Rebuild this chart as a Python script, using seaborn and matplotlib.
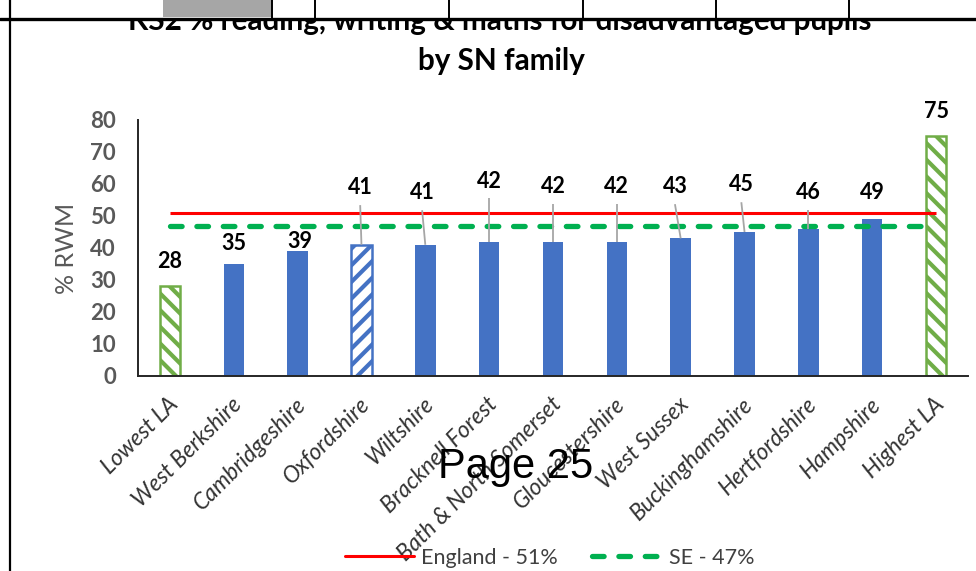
import matplotlib
matplotlib.use("Agg")
import matplotlib.pyplot as plt
import matplotlib.transforms as mtransforms
from matplotlib.lines import Line2D
from matplotlib.patches import Rectangle
import seaborn as sns

# --- data -------------------------------------------------------------
categories = ["Lowest LA", "West Berkshire", "Cambridgeshire", "Oxfordshire",
              "Wiltshire", "Bracknell Forest", "Bath & North Somerset",
              "Gloucestershire", "West Sussex", "Buckinghamshire",
              "Hertfordshire", "Hampshire", "Highest LA"]
rwm_values = [28, 35, 39, 41, 41, 42, 42, 42, 43, 45, 46, 49, 75]
england_value = 51
se_value = 47
england_label = "England - 51%"
se_label = "SE - 47%"
y_ticks = [0, 10, 20, 30, 40, 50, 60, 70, 80]

# bar kind: range end points, the local authority, and its neighbours
bar_kind = ["range", "peer", "peer", "self", "peer", "peer", "peer",
            "peer", "peer", "peer", "peer", "peer", "range"]

# where the value labels sit (y in data units, x shift in categories)
label_y = [35.9, 41.3, 41.9, 58.8, 57.2, 60.9, 59.1, 59.1, 59.1, 59.7, 57.2, 57.2, 82.5]
label_dx = [0, 0, 0.03, -0.02, -0.05, 0, 0, 0, -0.09, -0.05, 0, 0, 0]

# --- style ------------------------------------------------------------
W, H = 976, 571
BLUE = "#4472C4"
GREEN_BAR = "#70AD47"
RED = "#FF0000"
GREEN_LINE = "#00B050"
GREY_TXT = "#595959"
DARK_TXT = "#333333"
LEADER = "#A6A6A6"

sns.set_theme(style="white")
plt.rcParams["font.family"] = ["Lato", "DejaVu Sans"]
plt.rcParams["hatch.linewidth"] = 3.0


def fx(px):
    return px / W


def fy(py):
    return 1 - py / H


fig = plt.figure(figsize=(W / 100, H / 100), dpi=100)
fig.patch.set_facecolor("white")
ax = fig.add_axes([fx(138), fy(376), fx(968) - fx(138), fy(120) - fy(376)])

palette = [GREEN_BAR if k == "range" else BLUE for k in bar_kind]
sns.barplot(x=categories, y=rwm_values, hue=categories, palette=palette,
            width=0.32, saturation=1, legend=False, ax=ax, zorder=2)

for p in ax.patches:
    i = int(round(p.get_x() + p.get_width() / 2))
    if i < 0 or i >= len(categories):
        continue
    kind = bar_kind[i]
    if kind == "range":
        p.set_facecolor("white")
        p.set_edgecolor(GREEN_BAR)
        p.set_hatch("\\\\")
        p.set_linewidth(1.8)
    elif kind == "self":
        p.set_facecolor("white")
        p.set_edgecolor(BLUE)
        p.set_hatch("//")
        p.set_linewidth(1.8)
    else:
        p.set_edgecolor(BLUE)
        p.set_linewidth(0)

# England and South East reference lines
n = len(categories)
ax.hlines(england_value, 0, n - 1, color=RED, lw=2.2, zorder=4)
ax.plot([0, n - 1.1], [se_value, se_value], color=GREEN_LINE, lw=3.8,
        dashes=(2.2, 2.8), dash_capstyle="round", zorder=4)

# value labels, with grey leader lines when moved well above the bar
for i, v in enumerate(rwm_values):
    lx = i + label_dx[i]
    ax.text(lx, label_y[i], f"{v}", ha="center", va="center",
            fontsize=15.5, fontweight="bold", color="black", zorder=6)
    if label_y[i] - v > 10:
        ax.plot([lx, i], [label_y[i] - 5.4, v], color=LEADER, lw=1.3,
                zorder=5, solid_capstyle="butt")

ax.set_xlim(-0.5, n - 0.5)
ax.set_ylim(0, 80)
ax.set_yticks(y_ticks)
ax.set_yticklabels([str(t) for t in y_ticks], fontsize=16, fontweight="bold",
                   color=GREY_TXT)
ax.tick_params(axis="y", length=0, pad=16)
ax.tick_params(axis="x", length=0, pad=18)
ax.set_ylabel("% RWM", fontsize=18, color=GREY_TXT, labelpad=9)
ax.set_xticks(range(n))
ax.set_xticklabels(categories, rotation=45, ha="right", va="center",
                   rotation_mode="anchor", fontsize=16.5, style="italic",
                   color=DARK_TXT)
shift = mtransforms.ScaledTranslation(5 / 100, 0, fig.dpi_scale_trans)
for lab in ax.get_xticklabels():
    lab.set_transform(lab.get_transform() + shift)

for side in ["top", "right"]:
    ax.spines[side].set_visible(False)
for side in ["left", "bottom"]:
    ax.spines[side].set_color("#262626")
    ax.spines[side].set_linewidth(1.4)
ax.grid(False)
ax.set_xlabel("")

# title
fig.text(fx(500), fy(30), "KS2 % reading, writing & maths for disadvantaged pupils",
         ha="center", va="baseline", fontsize=21.3, fontweight="bold", color="black")
fig.text(fx(501), fy(70), "by SN family", ha="center", va="baseline",
         fontsize=21.3, fontweight="bold", color="black")

# legend
handles = [Line2D([], [], color=RED, lw=2.2),
           Line2D([], [], color=GREEN_LINE, lw=3.8, dashes=(2.2, 2.8),
                  dash_capstyle="round")]
leg = fig.legend(handles, [england_label, se_label], loc="center",
                 bbox_to_anchor=(fx(549.5), fy(558)), ncol=2, frameon=False,
                 fontsize=15.5, handlelength=3.2, handletextpad=0.35,
                 columnspacing=1.6, borderaxespad=0, borderpad=0)
for t in leg.get_texts():
    t.set_color("#404040")

# page furniture: table row above the chart, page border and page number
fig.add_artist(Rectangle((0, fy(19)), 1, 1 - fy(19), transform=fig.transFigure,
                         facecolor="white", edgecolor="none", zorder=8))
fig.add_artist(Rectangle((fx(163), fy(17)), fx(272) - fx(163), 1 - fy(17),
                         transform=fig.transFigure, facecolor="#A6A6A6",
                         edgecolor="none", zorder=9))
for xc in [272, 315, 449, 583, 716, 849]:
    fig.add_artist(Line2D([fx(xc), fx(xc)], [fy(19), 1], transform=fig.transFigure,
                          color="black", lw=1.4, zorder=10))
fig.add_artist(Line2D([0, 1], [fy(19), fy(19)], transform=fig.transFigure,
                      color="black", lw=2.4, zorder=10))
fig.add_artist(Line2D([fx(10), fx(10)], [0, 1], transform=fig.transFigure,
                      color="black", lw=1.6, zorder=10))
fig.text(fx(438), fy(478), "Page 25", ha="left", va="baseline",
         fontsize=30, family=["Liberation Sans", "DejaVu Sans"], color="black",
         zorder=11)

fig.savefig("out.png", dpi=100, facecolor="white")
